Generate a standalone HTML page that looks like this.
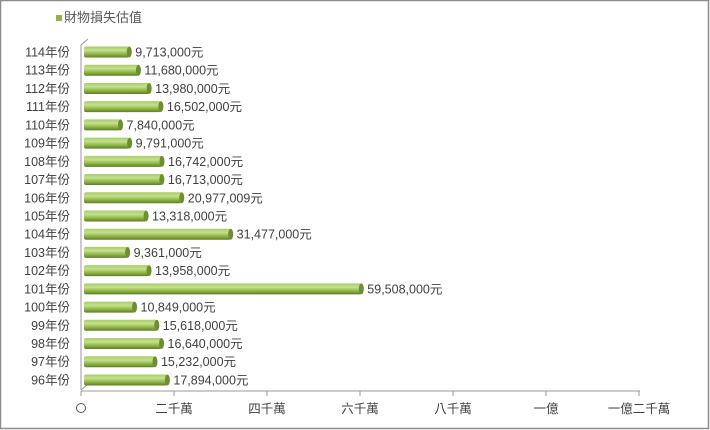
<!DOCTYPE html>
<html><head><meta charset="utf-8"><style>
body{margin:0;background:#fff}
svg{display:block;font-family:"Liberation Sans","Noto Sans CJK TC",sans-serif}
</style></head><body>
<svg width="710" height="430" viewBox="0 0 710 430">
<defs>
<linearGradient id="g" x1="0" y1="0" x2="0" y2="1">
<stop offset="0" stop-color="#a9cc6a"/><stop offset="0.35" stop-color="#c4e08c"/><stop offset="0.7" stop-color="#8db444"/><stop offset="1" stop-color="#5d7d25"/>
</linearGradient>
</defs>
<rect x="0.5" y="0.5" width="708" height="428" fill="#fff" stroke="#8c8c8c" stroke-width="1.5"/>
<rect x="56" y="15" width="6" height="6" fill="#8db444"/>
<text x="64" y="22" font-size="13" fill="#595959">財物損失估值</text>
<polyline points="81,390 81,45 88,39" fill="none" stroke="#999" stroke-width="1"/>
<line x1="81" y1="390" x2="88" y2="384" stroke="#999"/>
<line x1="81" y1="391" x2="640" y2="391" stroke="#999"/>
<g stroke="#999">
<line x1="81" y1="391" x2="81" y2="396"/><line x1="174" y1="391" x2="174" y2="396"/><line x1="267" y1="391" x2="267" y2="396"/><line x1="360" y1="391" x2="360" y2="396"/><line x1="453" y1="391" x2="453" y2="396"/><line x1="546" y1="391" x2="546" y2="396"/><line x1="639" y1="391" x2="639" y2="396"/>
</g>
<g font-size="12.5" fill="#404040" text-anchor="middle">
<circle cx="81" cy="408" r="4.5" fill="none" stroke="#555"/>
<text x="174" y="413">二千萬</text><text x="267" y="413">四千萬</text><text x="360" y="413">六千萬</text><text x="453" y="413">八千萬</text><text x="546" y="413">一億</text><text x="639" y="413">一億二千萬</text>
</g>
<g id="bars" font-size="12.5" fill="#404040"></g>
</svg>
<script>
var d=[["114年份",9713000,"9,713,000元"],["113年份",11680000,"11,680,000元"],["112年份",13980000,"13,980,000元"],["111年份",16502000,"16,502,000元"],["110年份",7840000,"7,840,000元"],["109年份",9791000,"9,791,000元"],["108年份",16742000,"16,742,000元"],["107年份",16713000,"16,713,000元"],["106年份",20977009,"20,977,009元"],["105年份",13318000,"13,318,000元"],["104年份",31477000,"31,477,000元"],["103年份",9361000,"9,361,000元"],["102年份",13958000,"13,958,000元"],["101年份",59508000,"59,508,000元"],["100年份",10849000,"10,849,000元"],["99年份",15618000,"15,618,000元"],["98年份",16640000,"16,640,000元"],["97年份",15232000,"15,232,000元"],["96年份",17894000,"17,894,000元"]];
var g=document.getElementById("bars"),s="";
d.forEach(function(r,i){var y=52+i*18.22,w=r[1]/1e6*4.66;
s+='<text x="70" y="'+(y+4.5)+'" text-anchor="end">'+r[0]+'</text>';
s+='<rect x="84" y="'+(y-5.5)+'" width="'+w+'" height="11" rx="2" fill="url(#g)"/>';
s+='<ellipse cx="'+(84+w)+'" cy="'+y+'" rx="2.5" ry="5.5" fill="#6e8f30"/>';
s+='<text x="'+(84+w+6)+'" y="'+(y+4.5)+'">'+r[2]+'</text>';});
g.innerHTML=s;
</script>
</body></html>
